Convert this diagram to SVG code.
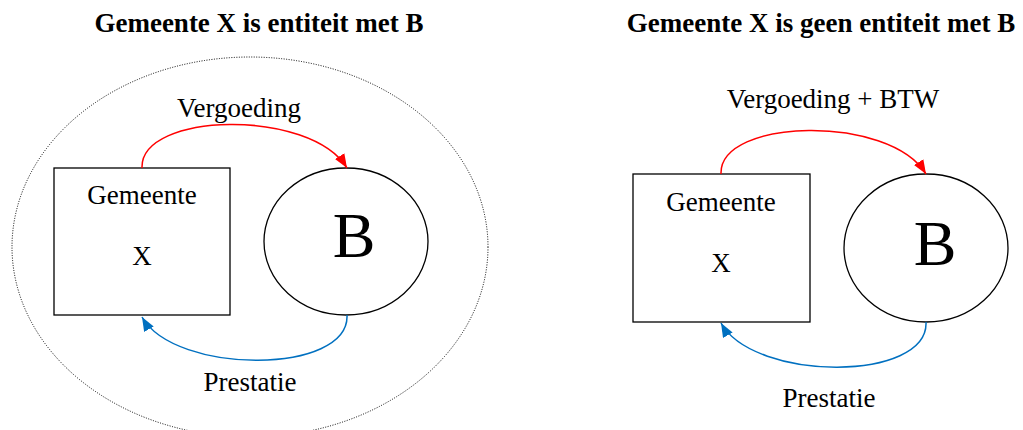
<svg xmlns="http://www.w3.org/2000/svg" width="1023" height="430" viewBox="0 0 1023 430">
<style>
text{font-family:"Liberation Serif","Times New Roman",serif;fill:#000;text-anchor:middle}
.title{font-size:27px;font-weight:bold}
.lbl{font-size:27px}
.big{font-size:64px}
.box{fill:#fff;stroke:#000;stroke-width:1.3}
.red{fill:none;stroke:#FF0000;stroke-width:1.5}
.blue{fill:none;stroke:#0070C0;stroke-width:1.5}
</style>
<defs>
<marker id="ar" viewBox="0 0 14 11" refX="14" refY="5.5" markerWidth="14" markerHeight="11" markerUnits="userSpaceOnUse" orient="auto"><path d="M0,0L14,5.5L0,11z" fill="#FF0000"/></marker>
<marker id="ab" viewBox="0 0 14 11" refX="14" refY="5.5" markerWidth="14" markerHeight="11" markerUnits="userSpaceOnUse" orient="auto"><path d="M0,0L14,5.5L0,11z" fill="#0070C0"/></marker>
</defs>
<rect width="1023" height="430" fill="#fff"/>
<text class="title" x="259" y="32">Gemeente X is entiteit met B</text>
<text class="title" x="821" y="32">Gemeente X is geen entiteit met B</text>
<g id="entity-boundary">
<ellipse cx="250" cy="247" rx="238" ry="190" fill="none" stroke="#000" stroke-width="1" stroke-dasharray="1,1.5"/>
</g>
<g id="gemeente-left">
<rect class="box" x="54" y="168" width="176" height="147"/>
<text class="lbl" x="142" y="204">Gemeente</text>
<text class="lbl" x="142" y="265">X</text>
</g>
<g id="b-left">
<ellipse class="box" cx="346" cy="241.5" rx="82" ry="73.5"/>
<text class="big" x="354" y="257">B</text>
</g>
<g id="gemeente-right">
<rect class="box" x="633" y="174" width="177" height="148"/>
<text class="lbl" x="721" y="211">Gemeente</text>
<text class="lbl" x="721" y="272">X</text>
</g>
<g id="b-right">
<ellipse class="box" cx="926" cy="248" rx="82" ry="74"/>
<text class="big" x="935" y="265">B</text>
</g>
<g id="connectors">
<path class="red" d="M142,168 C140,112 310,108 347,168" marker-end="url(#ar)"/>
<path class="blue" d="M347,315 C350,375 175,375 142,317" marker-end="url(#ab)"/>
<path class="red" d="M721,174 C719,118 889,114 926,174" marker-end="url(#ar)"/>
<path class="blue" d="M926,322 C929,382 754,382 721,323" marker-end="url(#ab)"/>
<text class="lbl" x="239" y="117">Vergoeding</text>
<text class="lbl" x="250" y="391">Prestatie</text>
<text class="lbl" x="833" y="108">Vergoeding + BTW</text>
<text class="lbl" x="829" y="407">Prestatie</text>
</g>
</svg>
